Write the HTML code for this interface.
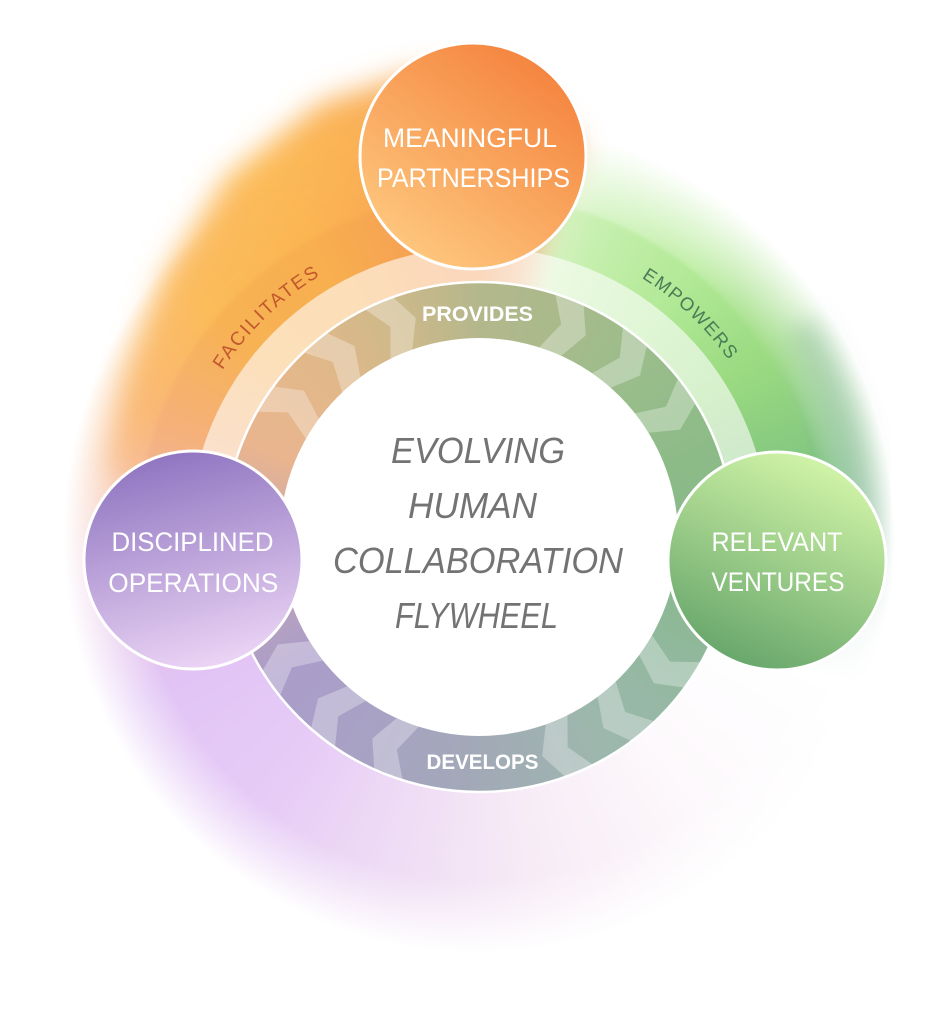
<!DOCTYPE html>
<html><head><meta charset="utf-8">
<style>
html,body{margin:0;padding:0;background:#fff;}
#c{position:relative;width:946px;height:1024px;overflow:hidden;background:#fff;}
.a{position:absolute;border-radius:50%;}
svg{position:absolute;left:0;top:0;}
#la{left:59px;top:117px;width:840px;height:840px;
background:conic-gradient(from 0deg at 50% 50%,#f6a058 0deg,#f4b888 8deg,#e8f4d6 14deg,#d8f5c8 20deg,#c4efac 38deg,#a2dc8a 58deg,#80c284 78deg,#78b290 94deg,#e6f2ec 104deg,#ffffff 112deg,#fdf9fc 140deg,#f7ecf6 170deg,#efdcf5 195deg,#e6cbf6 220deg,#e1c4f5 245deg,#e9c3e4 262deg,#f5c0a8 276deg,#f9b878 290deg,#fbbb58 310deg,#fbb552 330deg,#f8a755 348deg,#f6a058 360deg);
-webkit-mask-image:radial-gradient(circle closest-side,#000 0,#000 82%,rgba(0,0,0,.55) 90%,transparent 99%);
mask-image:radial-gradient(circle closest-side,#000 0,#000 82%,rgba(0,0,0,.55) 90%,transparent 99%);
filter:blur(3px);}
#lb{left:137px;top:195px;width:684px;height:684px;opacity:.6;filter:blur(1.5px);
background:conic-gradient(from 0deg at 50% 50%,#f49a55 0deg,#f0c090 10deg,#c8f0ae 16deg,#b8eb9c 24deg,#a6e688 40deg,#96da7c 58deg,#84c87e 78deg,rgba(130,190,130,0) 100deg,rgba(255,255,255,0) 245deg,#efb3a0 272deg,#f4ad7a 290deg,#f6ad52 310deg,#f7ac4e 330deg,#f59e52 348deg,#f49a55 360deg);}
#pb{left:189px;top:247px;width:580px;height:580px;
background:conic-gradient(from 0deg at 50% 50%,rgba(255,255,255,.6) 0deg,rgba(255,255,255,.6) 92deg,rgba(255,255,255,0) 115deg,rgba(255,255,255,0) 250deg,rgba(255,255,255,.6) 268deg,rgba(255,255,255,.6) 360deg);}
#dr{left:223px;top:281px;width:512px;height:512px;
background:conic-gradient(from 0deg at 50% 50%,#b4b78c 0deg,#a9ba8b 20deg,#99bd8b 45deg,#8cbb88 70deg,#88b98c 100deg,#93b8a0 125deg,#9db7ad 150deg,#a2a9b7 180deg,#a7a3c3 205deg,#aa9dca 235deg,#c8a6b0 268deg,#e9b58f 292deg,#e2b88a 315deg,#cdb98a 340deg,#b4b78c 360deg);}
</style></head><body><div id="c">

<svg width="946" height="1024" viewBox="0 0 946 1024">
<defs>
<filter id="bl1" x="-30%" y="-30%" width="160%" height="160%"><feGaussianBlur stdDeviation="14"/></filter>
<linearGradient id="gO" gradientUnits="userSpaceOnUse" x1="150" y1="420" x2="520" y2="80">
<stop offset="0" stop-color="#fbc07a"/><stop offset="0.5" stop-color="#fcbb58"/><stop offset="1" stop-color="#f7a254"/>
</linearGradient>
</defs>
<path filter="url(#bl1)" fill="url(#gO)" d="M 112.7 472.4 L 130.1 374.3 L 164.9 273.5 L 226.6 176.6 L 321 102.9 L 413.9 73.5 L 518.7 83.7 L 577 144 L 551.6 245.9 L 479 237 L 286.2 307.2 L 183.6 484.9 Z"/>
</svg>

<div class="a" id="la"></div>

<svg width="946" height="1024" viewBox="0 0 946 1024">
<defs>
<filter id="bl2" x="-50%" y="-50%" width="200%" height="200%"><feGaussianBlur stdDeviation="12"/></filter>
</defs>
<path filter="url(#bl2)" d="M 800 325 A 382 382 0 0 1 860 545" fill="none" stroke="#5f9e7a" stroke-width="34" stroke-opacity="0.3"/>
</svg>

<div class="a" id="lb"></div>
<div class="a" id="pb"></div>
<div class="a" id="dr"></div>

<svg width="946" height="1024" viewBox="0 0 946 1024">
<defs>
<clipPath id="ring"><circle cx="479" cy="537" r="256"/></clipPath>
<linearGradient id="gT" x1="0.85" y1="0.05" x2="0.2" y2="0.95">
<stop offset="0" stop-color="#f4813c"/><stop offset="1" stop-color="#fec87e"/>
</linearGradient>
<linearGradient id="gL" x1="0.35" y1="0" x2="0.6" y2="1">
<stop offset="0" stop-color="#8e74c0"/><stop offset="1" stop-color="#ecd5f5"/>
</linearGradient>
<linearGradient id="gR" x1="0.75" y1="0" x2="0.3" y2="1">
<stop offset="0" stop-color="#d6f8aa"/><stop offset="1" stop-color="#65a46a"/>
</linearGradient>
<path id="arcF" d="M 184.8 452.7 A 306 306 0 0 1 405 240.1" fill="none"/>
<path id="arcE" d="M 550.4 239.4 A 306 306 0 0 1 772.4 450.1" fill="none"/>
</defs>

<g clip-path="url(#ring)" fill="#ffffff" fill-opacity="0.3">
<path transform="translate(479 537) rotate(22)" d="M -28.5 -266.5 L 3.5 -268 L 23.5 -226.8 L 2.5 -188 L -19.8 -187 L -3.5 -228 Z"/>
<path transform="translate(479 537) rotate(39)" d="M -28.5 -266.5 L 3.5 -268 L 23.5 -226.8 L 2.5 -188 L -19.8 -187 L -3.5 -228 Z"/>
<path transform="translate(479 537) rotate(56)" d="M -28.5 -266.5 L 3.5 -268 L 23.5 -226.8 L 2.5 -188 L -19.8 -187 L -3.5 -228 Z"/>
<path transform="translate(479 537) rotate(124)" d="M -28.5 -266.5 L 3.5 -268 L 23.5 -226.8 L 2.5 -188 L -19.8 -187 L -3.5 -228 Z"/>
<path transform="translate(479 537) rotate(141)" d="M -28.5 -266.5 L 3.5 -268 L 23.5 -226.8 L 2.5 -188 L -19.8 -187 L -3.5 -228 Z"/>
<path transform="translate(479 537) rotate(158)" d="M -28.5 -266.5 L 3.5 -268 L 23.5 -226.8 L 2.5 -188 L -19.8 -187 L -3.5 -228 Z"/>
<path transform="translate(479 537) rotate(202)" d="M -28.5 -266.5 L 3.5 -268 L 23.5 -226.8 L 2.5 -188 L -19.8 -187 L -3.5 -228 Z"/>
<path transform="translate(479 537) rotate(219)" d="M -28.5 -266.5 L 3.5 -268 L 23.5 -226.8 L 2.5 -188 L -19.8 -187 L -3.5 -228 Z"/>
<path transform="translate(479 537) rotate(236)" d="M -28.5 -266.5 L 3.5 -268 L 23.5 -226.8 L 2.5 -188 L -19.8 -187 L -3.5 -228 Z"/>
<path transform="translate(479 537) rotate(304)" d="M -28.5 -266.5 L 3.5 -268 L 23.5 -226.8 L 2.5 -188 L -19.8 -187 L -3.5 -228 Z"/>
<path transform="translate(479 537) rotate(321)" d="M -28.5 -266.5 L 3.5 -268 L 23.5 -226.8 L 2.5 -188 L -19.8 -187 L -3.5 -228 Z"/>
<path transform="translate(479 537) rotate(338)" d="M -28.5 -266.5 L 3.5 -268 L 23.5 -226.8 L 2.5 -188 L -19.8 -187 L -3.5 -228 Z"/>
</g>

<circle cx="479" cy="537" r="255" fill="none" stroke="#ffffff" stroke-width="2.5"/>
<circle cx="479" cy="537" r="199" fill="#ffffff"/>

<text font-family="Liberation Sans, sans-serif" font-size="19" letter-spacing="2" fill="#c2572d"><textPath href="#arcF" startOffset="50%" text-anchor="middle">FACILITATES</textPath></text>
<text font-family="Liberation Sans, sans-serif" font-size="18.5" letter-spacing="1.5" fill="#4a7c55"><textPath href="#arcE" startOffset="50%" text-anchor="middle">EMPOWERS</textPath></text>

<g font-family="Liberation Sans, sans-serif" font-weight="bold" font-size="21" fill="#ffffff" text-anchor="middle">
<text x="477.5" y="321" textLength="111" lengthAdjust="spacingAndGlyphs">PROVIDES</text>
<text x="482.5" y="769" textLength="112" lengthAdjust="spacingAndGlyphs">DEVELOPS</text>
</g>

<g font-family="Liberation Sans, sans-serif" font-style="italic" font-size="36" fill="#737373" text-anchor="middle">
<text x="478" y="463" textLength="174" lengthAdjust="spacingAndGlyphs">EVOLVING</text>
<text x="472.5" y="518" textLength="129" lengthAdjust="spacingAndGlyphs">HUMAN</text>
<text x="478" y="573" textLength="290" lengthAdjust="spacingAndGlyphs">COLLABORATION</text>
<text x="476.5" y="628" textLength="163" lengthAdjust="spacingAndGlyphs">FLYWHEEL</text>
</g>

<circle cx="473" cy="156" r="113" fill="url(#gT)" stroke="#ffffff" stroke-width="3"/>
<circle cx="193" cy="560" r="109" fill="url(#gL)" stroke="#ffffff" stroke-width="3"/>
<circle cx="777" cy="561" r="109" fill="url(#gR)" stroke="#ffffff" stroke-width="3"/>

<g font-family="Liberation Sans, sans-serif" font-size="27" fill="#ffffff" text-anchor="middle">
<text x="470" y="147" textLength="174" lengthAdjust="spacingAndGlyphs">MEANINGFUL</text>
<text x="473.5" y="187" textLength="193" lengthAdjust="spacingAndGlyphs">PARTNERSHIPS</text>
<text x="192.5" y="551" textLength="162" lengthAdjust="spacingAndGlyphs">DISCIPLINED</text>
<text x="193.3" y="592" textLength="170" lengthAdjust="spacingAndGlyphs">OPERATIONS</text>
<text x="777" y="551" textLength="131" lengthAdjust="spacingAndGlyphs">RELEVANT</text>
<text x="778" y="591" textLength="133" lengthAdjust="spacingAndGlyphs">VENTURES</text>
</g>
</svg>

</div></body></html>
